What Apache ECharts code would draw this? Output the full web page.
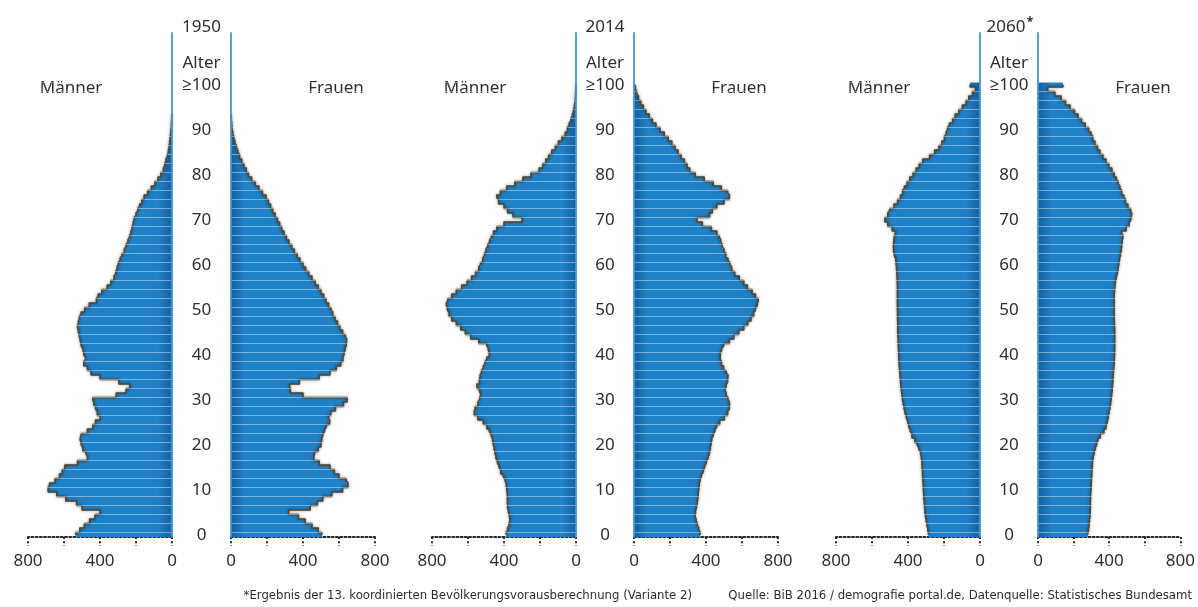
<!DOCTYPE html>
<html><head><meta charset="utf-8">
<script src="https://cdn.jsdelivr.net/npm/echarts@6/dist/echarts.min.js"></script>
<style>html,body{margin:0;padding:0;background:#fff}#c{width:1198px;height:607px}</style>
</head><body><div id="c"></div>
<script>
// ---- categories & labels ----
const ageCategories = Array.from({length: 112}, (_, i) => String(i)); // 0..111 (top rows empty)
const ageTickLabels = ['0','10','20','30','40','50','60','70','80','90','≥100'];
const xTickLabels = [0, 400, 800];
const years = ['1950', '2014', '2060'];
const sexLabels = ['Männer', 'Frauen'];
const ageTitle = 'Alter';
const footLeft = '*Ergebnis der 13. koordinierten Bevölkerungsvorausberechnung (Variante 2)';
const footRight = 'Quelle: BiB 2016 / demografie portal.de, Datenquelle: Statistisches Bundesamt';

// ---- values in thousands, ages 0..100 (100 = 100 and older) ----
const m1950 = [535,512,487,458,428,400,500,530,590,640,688,680,650,625,610,595,525,470,478,495,
  505,510,505,470,440,425,400,415,425,435,440,310,255,235,295,400,450,470,490,480,
  490,495,505,510,515,520,525,520,515,505,485,460,420,410,390,360,340,322,312,305,
  298,288,278,265,255,245,236,228,222,216,210,200,190,180,168,155,135,115,95,78,
  62,48,40,33,26,20,16,13,10,7,5,3,2,1,0,0,0,0,0,0,0];
const f1950 = [505,485,450,412,375,320,440,480,510,560,620,650,640,600,575,550,490,460,465,485,
  500,505,510,520,530,548,542,555,580,625,645,400,330,325,380,490,550,585,610,622,
  628,634,640,642,635,620,605,592,578,565,555,542,528,515,500,485,468,450,432,415,
  400,383,368,352,338,322,308,295,282,270,258,245,232,220,208,195,175,155,135,115,
  97,85,72,60,48,38,30,22,16,10,6,4,2,1,0,0,0,0,0,0,0];
const m2014 = [388,380,372,367,370,376,380,381,381,382,385,388,394,405,418,428,437,445,450,455,
  460,464,472,482,495,515,545,565,560,545,535,530,537,550,537,533,525,515,505,495,
  482,487,495,540,585,615,640,665,690,705,715,720,712,690,665,635,605,580,558,540,
  530,518,508,500,490,480,470,458,440,400,300,350,380,400,430,440,420,385,340,295,
  250,205,185,168,152,135,115,98,78,60,48,38,28,20,14,9,5,3,2,1,1];
const f2014 = [368,360,352,345,340,342,347,352,355,357,360,363,367,375,385,393,402,412,419,424,
  428,432,440,450,460,476,502,520,530,530,522,512,507,512,520,522,512,498,486,479,
  480,487,498,530,555,582,610,632,650,665,675,685,690,675,656,630,610,585,560,543,
  533,522,510,500,490,482,474,460,430,380,350,420,435,460,500,530,520,485,440,390,
  340,310,295,280,262,245,228,210,190,168,145,122,102,85,66,52,38,25,15,8,5];
const m2060 = [287,290,295,299,303,306,308,310,312,313,315,316,318,319,320,322,323,326,330,340,
  350,362,378,388,396,402,410,417,422,427,431,434,437,440,442,444,446,448,450,451,
  452,453,454,455,456,457,457,457,458,458,459,459,459,459,459,459,460,461,462,464,
  466,468,476,480,481,479,476,470,488,512,528,512,502,478,458,442,430,420,405,390,
  372,355,338,318,280,252,228,212,198,188,180,170,152,138,118,98,78,62,42,25,55];
const f2060 = [280,284,287,289,292,293,294,294,295,296,298,299,300,302,303,305,306,310,316,322,
  330,337,350,370,382,390,395,399,404,408,411,414,417,419,421,422,424,426,428,429,
  430,431,431,431,431,431,430,429,428,428,428,428,428,428,430,432,435,440,446,450,
  454,458,463,468,470,473,477,470,495,512,522,526,520,505,492,482,470,460,450,440,
  428,415,398,382,365,348,334,320,308,298,285,265,245,225,205,180,155,130,95,55,140];

// ---- layout ----
const FONT = '"Noto Sans", "Open Sans", sans-serif';
const FOOT_FONT = '13px "Liberation Sans Narrow", "DejaVu Sans Condensed", sans-serif';
const TXT = '#2e2e2e';
const BLUE = '#1f81c8', BLUE_DARK = '#155f9e', AXIS_BLUE = '#3c9ad8';
const panels = [
  {year: years[0], men: m1950, women: f1950, leftX: 28, axisL: 172, axisR: 231},
  {year: years[1], men: m2014, women: f2014, leftX: 432, axisL: 576, axisR: 634},
  {year: years[2], men: m2060, women: f2060, leftX: 836, axisL: 980, axisR: 1038}
];
const W = 144, TOP = 33, BOTTOM = 70;

const grids = [], xAxes = [], yAxes = [], series = [], graphics = [];
const showAgeLabel = i => i % 10 === 0 && i <= 100;
const stripe = i => i % 2 === 1 && i <= 101;

panels.forEach((p, k) => {
  const gL = grids.length;
  grids.push({left: p.leftX, width: W, top: TOP, bottom: BOTTOM});
  grids.push({left: p.axisR, width: W, top: TOP, bottom: BOTTOM});
  [0, 1].forEach(side => {
    const gi = gL + side;
    xAxes.push({
      gridIndex: gi, type: 'value', inverse: side === 0, min: 0, max: 800, interval: 200,
      axisLine: {show: true, lineStyle: {color: '#2a2a2a', width: 2, type: [2, 2.2]}},
      axisTick: {show: true, length: 9, lineStyle: {color: '#2a2a2a', width: 2, type: [2, 2.2]}},
      axisLabel: {margin: 16, fontSize: 17, color: TXT, fontFamily: FONT,
        formatter: v => xTickLabels.includes(v) ? String(v) : ''},
      splitLine: {show: false}
    });
    yAxes.push({
      gridIndex: gi, type: 'category', data: ageCategories, position: side === 0 ? 'right' : 'left',
      z: 5,
      axisLine: {show: true, lineStyle: {color: AXIS_BLUE, width: 1.8}},
      axisTick: {show: false},
      axisLabel: side === 0 ? {
        show: true, interval: showAgeLabel, align: 'center', margin: (p.axisR - p.axisL) / 2,
        fontSize: 17, color: TXT, fontFamily: FONT, padding: [6, 0, 0, 0],
        formatter: (v, i) => ageTickLabels[Number(v) / 10]
      } : {show: false},
      splitLine: {show: true, interval: stripe, lineStyle: {color: 'rgba(255,255,255,0.36)', width: 1}}
    });
    const vals = side === 0 ? p.men : p.women;
    const grad = side === 0
      ? {type: 'linear', x: p.axisL - 14, y: 0, x2: p.axisL, y2: 0, global: true,
         colorStops: [{offset: 0, color: BLUE}, {offset: 1, color: BLUE_DARK}]}
      : {type: 'linear', x: p.axisR, y: 0, x2: p.axisR + 14, y2: 0, global: true,
         colorStops: [{offset: 0, color: BLUE_DARK}, {offset: 1, color: BLUE}]};
    series.push({
      type: 'bar', xAxisIndex: gi, yAxisIndex: gi, data: vals, barWidth: 5,
      itemStyle: {color: grad}, silent: true
    });
    series.push({
      type: 'line', xAxisIndex: gi, yAxisIndex: gi, step: 'middle', symbol: 'none', silent: true,
      data: vals.map((v, i) => [v > 0 ? v : null, i]),
      lineStyle: {color: '#4d4839', width: 1.6, shadowBlur: 3, shadowColor: 'rgba(30,30,20,0.55)'}
    });
  });
  const cx = (p.axisL + p.axisR) / 2;
  graphics.push({type: 'text', x: p.axisL - 101, y: 88, style: {text: sexLabels[0], font: '17px ' + FONT, fill: TXT, align: 'center', verticalAlign: 'middle'}});
  graphics.push({type: 'text', x: p.axisR + 105, y: 88, style: {text: sexLabels[1], font: '17px ' + FONT, fill: TXT, align: 'center', verticalAlign: 'middle'}});
  graphics.push({type: 'text', x: cx, y: 63, style: {text: ageTitle, font: '17px ' + FONT, fill: TXT, align: 'center', verticalAlign: 'middle'}});
  graphics.push({type: 'text', x: cx + (k === 2 ? -3 : 0), y: 27, style: {text: p.year, font: '17px ' + FONT, fill: TXT, align: 'center', verticalAlign: 'middle'}});
  if (k === 2) {
    graphics.push({type: 'text', x: 1030, y: 23, style: {text: '*', font: 'bold 12px ' + FONT, fill: TXT, align: 'center', verticalAlign: 'middle'}});
  }
});
graphics.push({type: 'text', x: 692, y: 596, style: {text: footLeft, font: FOOT_FONT, fill: TXT, align: 'right', verticalAlign: 'middle'}});
graphics.push({type: 'text', x: 1192, y: 596, style: {text: footRight, font: FOOT_FONT, fill: TXT, align: 'right', verticalAlign: 'middle'}});

const chart = echarts.init(document.getElementById('c'));
chart.setOption({
  animation: false,
  backgroundColor: '#fff',
  grid: grids, xAxis: xAxes, yAxis: yAxes, series: series,
  graphic: graphics
});
</script></body></html>
